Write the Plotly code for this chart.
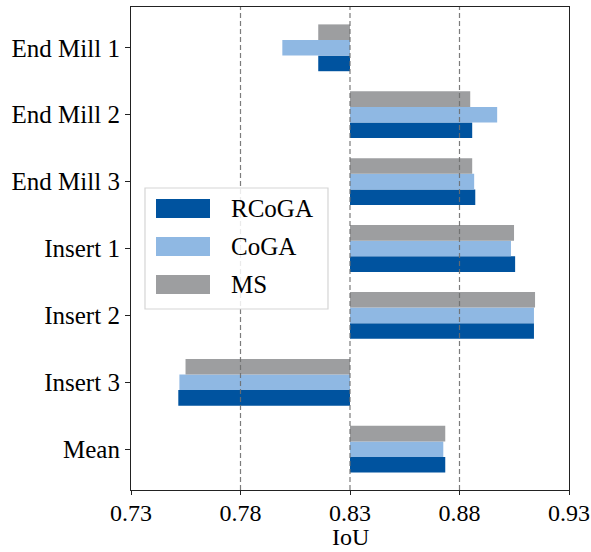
import plotly.graph_objects as go

# Per-tool IoU scores for each method; bars are drawn relative to the 0.83 baseline
categories = ["End Mill 1", "End Mill 2", "End Mill 3", "Insert 1", "Insert 2", "Insert 3", "Mean"]
rcoga = [0.8155, 0.8858, 0.8872, 0.9054, 0.9140, 0.7516, 0.8735]
coga = [0.7991, 0.8972, 0.8867, 0.9035, 0.9140, 0.7521, 0.8726]
ms = [0.8155, 0.8849, 0.8858, 0.9049, 0.9145, 0.7549, 0.8735]

series_names = ["RCoGA", "CoGA", "MS"]
series_values = [rcoga, coga, ms]
series_colors = ["#00539F", "#8FB8E3", "#9D9EA0"]

baseline = 0.83
x_ticks = [0.73, 0.78, 0.83, 0.88, 0.93]
x_tick_text = ["0.73", "0.78", "0.83", "0.88", "0.93"]

FONT = "Liberation Serif, Times New Roman, serif"

fig = go.Figure()
for name, vals, color in zip(series_names, series_values, series_colors):
    fig.add_trace(go.Bar(
        y=categories,
        x=[v - baseline for v in vals],
        base=baseline,
        orientation="h",
        name=name,
        marker=dict(color=color, line=dict(width=0)),
        showlegend=False,
    ))

# dashed vertical guides drawn on top of the bars
shapes = []
for t in x_ticks[1:-1]:
    shapes.append(dict(type="line", xref="x", yref="paper", x0=t, x1=t, y0=0, y1=1,
                       layer="above", line=dict(color="rgba(110,110,110,0.9)", width=1.2, dash="5px,3px")))

# legend panel (paper coordinates)
def px2x(px):
    return (px - 131) / 438

def px2y(py):
    return (490 - py) / 483

shapes.append(dict(type="rect", xref="paper", yref="paper",
                   x0=px2x(145), x1=px2x(328), y0=px2y(309), y1=px2y(188),
                   line=dict(color="#D5D5D5", width=1.2), fillcolor="rgba(255,255,255,0.85)", layer="above"))
annotations = []
for i, (name, color) in enumerate(zip(series_names, series_colors)):
    top = 199 + i * 38
    shapes.append(dict(type="rect", xref="paper", yref="paper",
                       x0=px2x(156), x1=px2x(210), y0=px2y(top + 19), y1=px2y(top),
                       line=dict(width=0), fillcolor=color, layer="above"))
    annotations.append(dict(xref="paper", yref="paper", x=px2x(229), y=px2y(top + 9.5),
                            text=name, showarrow=False, xanchor="left", yanchor="middle",
                            font=dict(family=FONT, size=25, color="black")))

# x-axis title
annotations.append(dict(xref="paper", yref="paper", x=0.5, y=px2y(537),
                        text="IoU", showarrow=False, xanchor="center", yanchor="middle",
                        font=dict(family=FONT, size=24, color="black")))

fig.update_layout(
    width=591, height=552,
    margin=dict(l=131, r=22, t=7, b=62),
    paper_bgcolor="white", plot_bgcolor="white",
    barmode="group", bargap=0.3, bargroupgap=0,
    font=dict(family=FONT, size=25, color="black"),
    shapes=shapes, annotations=annotations,
    xaxis=dict(
        range=[0.73, 0.93], tickvals=x_ticks, ticktext=x_tick_text,
        showgrid=False, zeroline=False, automargin=False,
        showline=True, linecolor="#222", linewidth=1.2, mirror=True,
        ticks="outside", ticklen=4, tickcolor="#222",
        ticklabelstandoff=-3,
        tickfont=dict(family=FONT, size=24),
    ),
    yaxis=dict(
        categoryorder="array", categoryarray=list(reversed(categories)),
        range=[-0.61, 6.61], automargin=False,
        showgrid=False, zeroline=False,
        showline=True, linecolor="#222", linewidth=1.2, mirror=True,
        ticks="outside", ticklen=5, tickcolor="#222",
        tickfont=dict(family=FONT, size=25),
    ),
)

fig.write_html("out.html")
